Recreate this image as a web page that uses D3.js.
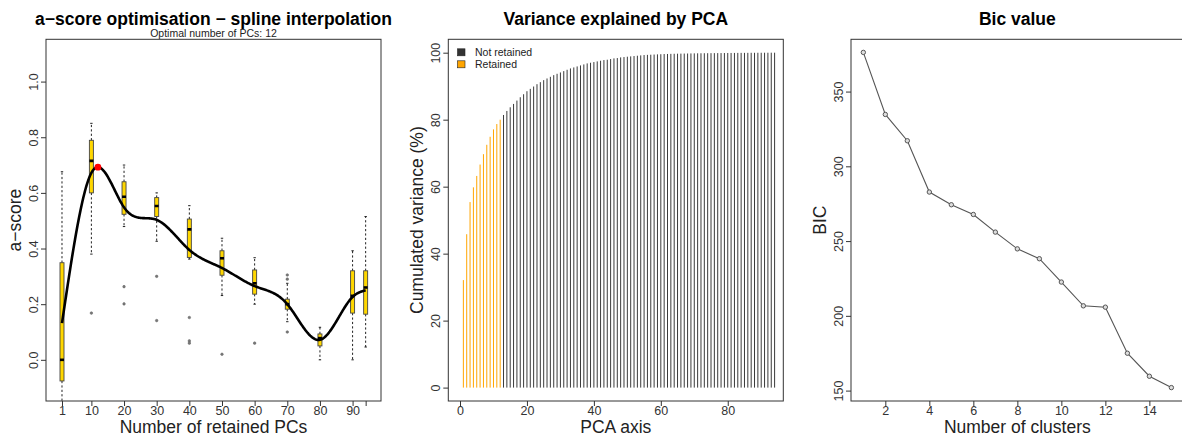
<!DOCTYPE html>
<html>
<head>
<meta charset="utf-8">
<script src="https://cdn.jsdelivr.net/npm/d3@7"></script>
<style>
  html, body { margin: 0; padding: 0; background: #fff; }
  svg { display: block; font-family: "Liberation Sans", Arial, Helvetica, sans-serif; }
</style>
</head>
<body>
<svg id="chart" width="1182" height="437"></svg>
<script>
// ---------- a-score optimisation (boxplots per number of retained PCs) ----------
const pcGrid      = [1, 10, 20, 30, 40, 50, 60, 70, 80, 90, 94];
const pcTickText  = ["1", "10", "20", "30", "40", "50", "60", "70", "80", "90", ""];
const whiskerLow  = [-0.25, 0.38, 0.479, 0.426, 0.362, 0.231, 0.20, 0.137, 0.0, 0.0, 0.046];
const quart1      = [-0.076, 0.60, 0.523, 0.515, 0.368, 0.304, 0.236, 0.182, 0.05, 0.168, 0.164];
const medians     = [0.0, 0.715, 0.586, 0.553, 0.469, 0.365, 0.275, 0.20, 0.078, 0.23, 0.26];
const quart3      = [0.349, 0.789, 0.64, 0.583, 0.506, 0.392, 0.323, 0.218, 0.093, 0.32, 0.32];
const whiskerHigh = [0.676, 0.85, 0.70, 0.60, 0.554, 0.437, 0.367, 0.275, 0.117, 0.392, 0.515];
const outliers    = [[], [0.168], [0.263, 0.201], [0.30, 0.141], [0.152, 0.068, 0.06], [0.02], [0.06],
                     [0.305, 0.29, 0.10], [], [], []];
const splineMeans = [0.132, 0.672, 0.548, 0.503, 0.395, 0.33, 0.265, 0.2, 0.072, 0.226, 0.25];
const optimalPCs  = 12;
const aScoreTicks = [0.0, 0.2, 0.4, 0.6, 0.8, 1.0];

// ---------- cumulated variance explained by PCA axes ----------
const cumVariance = [
  32.1, 45.8, 55.4, 59.8, 63.2, 66.6, 69.7, 72.5, 74.9, 77.1,
  78.7, 80.0, 81.4, 82.6, 83.7, 84.7, 85.7, 86.7, 87.6, 88.5,
  89.2, 89.9, 90.6, 91.2, 91.8, 92.3, 92.8, 93.3, 93.7, 94.1,
  94.5, 94.9, 95.3, 95.6, 95.9, 96.2, 96.5, 96.8, 97.0, 97.2,
  97.4, 97.6, 97.8, 97.9, 98.1, 98.3, 98.4, 98.6, 98.7, 98.8,
  98.9, 99.0, 99.1, 99.2, 99.3, 99.35, 99.4, 99.45, 99.5, 99.55,
  99.6, 99.62, 99.65, 99.68, 99.7, 99.72, 99.74, 99.76, 99.78, 99.8,
  99.82, 99.83, 99.84, 99.85, 99.86, 99.87, 99.88, 99.89, 99.9, 99.91,
  99.92, 99.93, 99.94, 99.95, 99.95, 99.96, 99.97, 99.97, 99.98, 99.98,
  99.99, 99.99, 100, 100
];
const retainedPCs   = 12;
const varianceTicks = [0, 20, 40, 60, 80, 100];
const pcaAxisTicks  = [0, 20, 40, 60, 80];
const legendLabels  = ["Not retained", "Retained"];

// ---------- BIC by number of clusters ----------
const clusters  = [1, 2, 3, 4, 5, 6, 7, 8, 9, 10, 11, 12, 13, 14, 15];
const bicValues = [376.2, 334.7, 317.1, 282.8, 274.3, 267.8, 256.0, 244.8, 238.2, 222.6, 206.7, 205.8, 175.0, 159.6, 152.0];
const bicXTicks = [2, 4, 6, 8, 10, 12, 14];
const bicYTicks = [150, 200, 250, 300, 350];

// ---------- layout / style ----------
const TOP = 39.3, BOTTOM = 401;
const INK = "#222", AXIS = "#333";
const TICK_FONT = 12.5, LAB_FONT = 17.5, TITLE_FONT = 17.5;
const svg = d3.select("#chart");

// natural cubic spline through (xs, ys)
function naturalSpline(xs, ys) {
  const n = xs.length, h = [], a = [], b = [], c = [], r = [];
  for (let i = 0; i < n - 1; i++) h.push(xs[i + 1] - xs[i]);
  const M = new Array(n).fill(0);
  for (let i = 1; i < n - 1; i++) {
    a[i] = h[i - 1]; b[i] = 2 * (h[i - 1] + h[i]); c[i] = h[i];
    r[i] = 6 * ((ys[i + 1] - ys[i]) / h[i] - (ys[i] - ys[i - 1]) / h[i - 1]);
  }
  // Thomas algorithm
  const cp = [], rp = [];
  for (let i = 1; i < n - 1; i++) {
    const den = b[i] - (i > 1 ? a[i] * cp[i - 1] : 0);
    cp[i] = c[i] / den;
    rp[i] = (r[i] - (i > 1 ? a[i] * rp[i - 1] : 0)) / den;
  }
  for (let i = n - 2; i >= 1; i--) M[i] = rp[i] - cp[i] * (i < n - 2 ? M[i + 1] : 0);
  return x => {
    let i = 0;
    while (i < n - 2 && x > xs[i + 1]) i++;
    const t1 = xs[i + 1] - x, t0 = x - xs[i], hi = h[i];
    return M[i] * t1 * t1 * t1 / (6 * hi) + M[i + 1] * t0 * t0 * t0 / (6 * hi)
      + (ys[i] / hi - M[i] * hi / 6) * t1 + (ys[i + 1] / hi - M[i + 1] * hi / 6) * t0;
  };
}

function frame(g, x0, x1) {
  g.append("rect").attr("x", x0).attr("y", TOP).attr("width", x1 - x0).attr("height", BOTTOM - TOP)
    .attr("fill", "none").attr("stroke", AXIS).attr("stroke-width", 1);
}

function bottomAxis(g, scale, ticks, fmt) {
  const ax = g.append("g").attr("transform", `translate(0,${BOTTOM})`)
    .call(d3.axisBottom(scale).tickValues(ticks).tickFormat(fmt).tickSize(5).tickPadding(0.5));
  ax.select(".domain").remove();
  ax.selectAll("line").attr("stroke", AXIS);
  ax.selectAll("text").attr("font-size", TICK_FONT).attr("fill", AXIS).attr("font-family", null);
}

function leftAxis(g, scale, x0, ticks, fmt) {
  const ax = g.append("g").attr("transform", `translate(${x0},0)`)
    .call(d3.axisLeft(scale).tickValues(ticks).tickFormat(fmt).tickSize(5));
  ax.select(".domain").remove();
  ax.selectAll("line").attr("stroke", AXIS);
  ax.selectAll("text")
    .attr("transform", "rotate(-90)")
    .attr("x", 0).attr("y", -8).attr("dy", 0)
    .attr("text-anchor", "middle")
    .attr("font-size", TICK_FONT).attr("fill", AXIS).attr("font-family", null);
}

function labels(g, x0, x1, title, xlab, ylab) {
  const cx = (x0 + x1) / 2;
  g.append("text").attr("x", cx).attr("y", 25).attr("text-anchor", "middle")
    .attr("font-size", TITLE_FONT).attr("font-weight", "bold").attr("fill", "#000").text(title);
  g.append("text").attr("x", cx).attr("y", 433).attr("text-anchor", "middle")
    .attr("font-size", LAB_FONT).attr("fill", INK).text(xlab);
  g.append("text").attr("transform", `translate(${x0 - 25},${(TOP + BOTTOM) / 2}) rotate(-90)`)
    .attr("text-anchor", "middle").attr("font-size", LAB_FONT).attr("fill", INK).text(ylab);
}

// ================= Panel 1: a-score =================
{
  const x0 = 46, x1 = 381;
  const g = svg.append("g");
  const x = d3.scaleLinear().domain([-3.9, 98.7]).range([x0, x1]);
  const y = d3.scaleLinear().domain([-0.148, 1.152]).range([BOTTOM, TOP]);

  g.append("clipPath").attr("id", "clip1")
    .append("rect").attr("x", x0).attr("y", TOP).attr("width", x1 - x0).attr("height", BOTTOM - TOP);
  const plot = g.append("g").attr("clip-path", "url(#clip1)");

  const boxes = pcGrid.map((pc, i) => ({
    pc, lo: whiskerLow[i], q1: quart1[i], med: medians[i], q3: quart3[i], hi: whiskerHigh[i], out: outliers[i]
  }));
  const bw = 4, sw = 1.2;
  const bg = plot.selectAll("g.box").data(boxes).join("g").attr("class", "box");
  // whiskers
  bg.append("line").attr("x1", d => x(d.pc)).attr("x2", d => x(d.pc))
    .attr("y1", d => y(d.q3)).attr("y2", d => y(d.hi))
    .attr("stroke", INK).attr("stroke-width", 1).attr("stroke-dasharray", "2.2,2.2");
  bg.append("line").attr("x1", d => x(d.pc)).attr("x2", d => x(d.pc))
    .attr("y1", d => y(d.q1)).attr("y2", d => y(d.lo))
    .attr("stroke", INK).attr("stroke-width", 1).attr("stroke-dasharray", "2.2,2.2");
  // staples
  bg.append("line").attr("x1", d => x(d.pc) - sw).attr("x2", d => x(d.pc) + sw)
    .attr("y1", d => y(d.hi)).attr("y2", d => y(d.hi)).attr("stroke", INK).attr("stroke-width", 1);
  bg.append("line").attr("x1", d => x(d.pc) - sw).attr("x2", d => x(d.pc) + sw)
    .attr("y1", d => y(d.lo)).attr("y2", d => y(d.lo)).attr("stroke", INK).attr("stroke-width", 1);
  // boxes
  bg.append("rect").attr("x", d => x(d.pc) - bw / 2).attr("width", bw)
    .attr("y", d => y(d.q3)).attr("height", d => y(d.q1) - y(d.q3))
    .attr("fill", "#FFD700").attr("stroke", "#444").attr("stroke-width", 0.9);
  // medians
  bg.append("line").attr("x1", d => x(d.pc) - bw / 2).attr("x2", d => x(d.pc) + bw / 2)
    .attr("y1", d => y(d.med)).attr("y2", d => y(d.med)).attr("stroke", "#000").attr("stroke-width", 2.6);
  // outliers
  bg.selectAll("circle").data(d => d.out.map(v => ({ pc: d.pc, v }))).join("circle")
    .attr("cx", d => x(d.pc)).attr("cy", d => y(d.v)).attr("r", 1.3)
    .attr("fill", "#777").attr("stroke", "#666").attr("stroke-width", 0.5);

  // spline through the per-grid means
  const spl = naturalSpline(pcGrid, splineMeans);
  const xs = d3.range(pcGrid[0], pcGrid[pcGrid.length - 1] + 0.001, 0.25);
  plot.append("path")
    .attr("d", d3.line().x(v => x(v)).y(v => y(spl(v)))(xs))
    .attr("fill", "none").attr("stroke", "#000").attr("stroke-width", 2.6).attr("stroke-linejoin", "round");
  plot.append("circle").attr("cx", x(optimalPCs)).attr("cy", y(spl(optimalPCs))).attr("r", 3.4).attr("fill", "#FF0000");

  frame(g, x0, x1);
  bottomAxis(g, x, pcGrid, (d, i) => pcTickText[i]);
  leftAxis(g, y, x0, aScoreTicks, d3.format(".1f"));
  labels(g, x0, x1, "a\u2212score optimisation \u2212 spline interpolation", "Number of retained PCs", "a\u2212score");
  g.append("text").attr("x", (x0 + x1) / 2).attr("y", 37).attr("text-anchor", "middle")
    .attr("font-size", 10.5).attr("fill", INK).text(`Optimal number of PCs: ${optimalPCs}`);
}

// ================= Panel 2: variance explained =================
{
  const x0 = 448.3, x1 = 783.3;
  const g = svg.append("g");
  const x = d3.scaleLinear().domain([-3.5, 96.6]).range([x0, x1]);
  const y = d3.scaleLinear().domain([-4, 104]).range([BOTTOM, TOP]);
  const bars = cumVariance.map((v, i) => ({ pc: i + 1, v }));
  g.selectAll("line.bar").data(bars).join("line").attr("class", "bar")
    .attr("x1", d => x(d.pc)).attr("x2", d => x(d.pc))
    .attr("y1", y(0)).attr("y2", d => y(d.v))
    .attr("stroke", d => d.pc <= retainedPCs ? "#FFA500" : "#3a3a3a").attr("stroke-width", 1);

  frame(g, x0, x1);
  bottomAxis(g, x, pcaAxisTicks, d3.format("d"));
  leftAxis(g, y, x0, varianceTicks, d3.format("d"));
  labels(g, x0, x1, "Variance explained by PCA", "PCA axis", "Cumulated variance (%)");

  const leg = g.append("g");
  const legColors = ["#333", "#FFA500"];
  legendLabels.forEach((lab, i) => {
    const ly = 52.3 + i * 12;
    leg.append("rect").attr("x", 457.5).attr("y", ly - 3.5).attr("width", 7.5).attr("height", 7)
      .attr("fill", legColors[i]).attr("stroke", "#222").attr("stroke-width", 0.6);
    leg.append("text").attr("x", 475).attr("y", ly + 3.7).attr("font-size", 10.5).attr("fill", INK).text(lab);
  });
}

// ================= Panel 3: BIC =================
{
  const x0 = 851, x1 = 1183.7;
  const g = svg.append("g");
  const x = d3.scaleLinear().domain([0.44, 15.56]).range([x0, x1]);
  const y = d3.scaleLinear().domain([143.04, 384.96]).range([BOTTOM, TOP]);
  const pts = clusters.map((k, i) => ({ k, v: bicValues[i] }));
  g.append("path").attr("d", d3.line().x(d => x(d.k)).y(d => y(d.v))(pts))
    .attr("fill", "none").attr("stroke", "#555").attr("stroke-width", 1.1);
  g.selectAll("circle").data(pts).join("circle")
    .attr("cx", d => x(d.k)).attr("cy", d => y(d.v)).attr("r", 2.2)
    .attr("fill", "#ddd").attr("stroke", "#555").attr("stroke-width", 1);

  frame(g, x0, x1);
  bottomAxis(g, x, bicXTicks, d3.format("d"));
  leftAxis(g, y, x0, bicYTicks, d3.format("d"));
  labels(g, x0, x1, "Bic value", "Number of clusters", "BIC");
}
</script>
</body>
</html>
